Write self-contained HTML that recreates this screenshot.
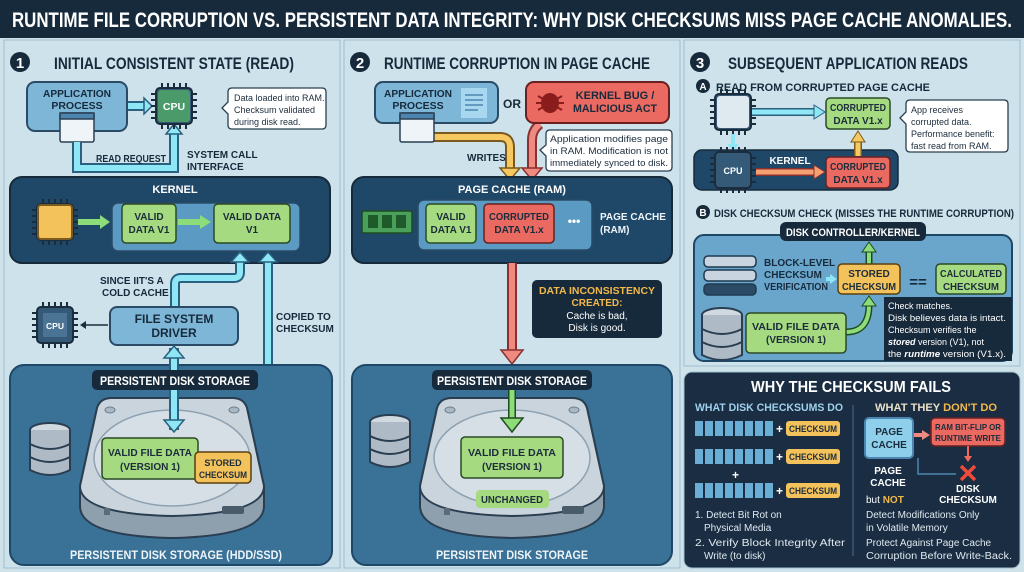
<!DOCTYPE html>
<html><head><meta charset="utf-8"><style>
html,body{margin:0;padding:0;background:#cfe2ea;}
svg{display:block}
text{font-family:"Liberation Sans",sans-serif;font-weight:bold}
.n{font-weight:normal;font-family:"Liberation Sans",sans-serif}
</style></head><body>
<svg width="1024" height="572" viewBox="0 0 1024 572" xmlns="http://www.w3.org/2000/svg">
<defs>
<g id="disk">
<path d="M-75,-58 Q-72,-68 -60,-68 L60,-68 Q72,-68 75,-58 L92,20 L92,40 Q92,70 0,72 Q-92,70 -92,40 L-92,20 Z" fill="#8e9fae" stroke="#2a3e52" stroke-width="2"/>
<path d="M-75,-58 Q-72,-68 -60,-68 L60,-68 Q72,-68 75,-58 L92,20 Q92,48 0,50 Q-92,48 -92,20 Z" fill="#c9d4dc" stroke="#2a3e52" stroke-width="2"/>
<ellipse cx="0" cy="-8" rx="78" ry="48" fill="#d6dfe6" stroke="#8fa2b2" stroke-width="1.5"/>
<ellipse cx="-62" cy="-56" rx="5" ry="3" fill="#a9b7c3" stroke="#6b7f90"/>
<ellipse cx="62" cy="-56" rx="5" ry="3" fill="#a9b7c3" stroke="#6b7f90"/>
<rect x="-68" y="42" width="6" height="7" fill="#5b6b78"/>
<rect x="50" y="40" width="22" height="8" rx="2" fill="#4a5b69"/>
</g>
<g id="db">
<ellipse cx="0" cy="-18" rx="20" ry="7" fill="#d0d9e0" stroke="#2a3e52" stroke-width="2"/>
<path d="M-20,-18 V22 Q0,32 20,22 V-18" fill="#aebbc6" stroke="#2a3e52" stroke-width="2"/>
<path d="M-20,-4 Q0,6 20,-4 M-20,9 Q0,19 20,9" fill="none" stroke="#2a3e52" stroke-width="2"/>
</g>
<g id="chip">
<rect x="-18" y="-18" width="36" height="36" rx="4" fill="#345a78" stroke="#1b2c3c" stroke-width="2"/>
<path d="M-12,-23V-18M-6,-23V-18M0,-23V-18M6,-23V-18M12,-23V-18M-12,18V23M-6,18V23M0,18V23M6,18V23M12,18V23M-23,-12H-18M-23,-6H-18M-23,0H-18M-23,6H-18M-23,12H-18M18,-12H23M18,-6H23M18,0H23M18,6H23M18,12H23" stroke="#1b2c3c" stroke-width="2"/>
</g>
<g id="win">
<rect x="0" y="0" width="34" height="29" rx="2" fill="#eef4f8" stroke="#2a3e52" stroke-width="1.5"/>
<rect x="0" y="0" width="34" height="6" fill="#4c86b0" stroke="#2a3e52" stroke-width="1.5"/>
</g>
</defs>

<rect width="1024" height="38" fill="#172a3c"/>
<text x="512" y="27" font-size="21" fill="#fff" text-anchor="middle" textLength="1000" lengthAdjust="spacingAndGlyphs">RUNTIME FILE CORRUPTION VS. PERSISTENT DATA INTEGRITY: WHY DISK CHECKSUMS MISS PAGE CACHE ANOMALIES.</text>

<rect x="4" y="40" width="336" height="528" fill="#cde2ea" stroke="#9ebfd0"/>
<rect x="344" y="40" width="336" height="528" fill="#cde2ea" stroke="#9ebfd0"/>
<rect x="684" y="40" width="336" height="326" fill="#cde2ea" stroke="#9ebfd0"/>

<!-- PANEL 1 -->
<circle cx="20" cy="62" r="10" fill="#172a3c"/><text x="20" y="68" font-size="15" fill="#fff" text-anchor="middle">1</text>
<text x="54" y="69" font-size="17" fill="#172a3c" textLength="240" lengthAdjust="spacingAndGlyphs">INITIAL CONSISTENT STATE (READ)</text>
<rect x="27" y="82" width="100" height="49" rx="8" fill="#7db6d6" stroke="#2a4a66" stroke-width="2"/>
<text x="77" y="97" font-size="10.5" fill="#172a3c" text-anchor="middle" textLength="68" lengthAdjust="spacingAndGlyphs">APPLICATION</text>
<text x="77" y="109" font-size="10.5" fill="#172a3c" text-anchor="middle">PROCESS</text>
<use href="#win" x="60" y="113"/>
<path d="M77,142 V168 H174 V130" fill="none" stroke="#2a6080" stroke-width="10"/>
<path d="M77,142 V168 H174 V132" fill="none" stroke="#8fe6f5" stroke-width="6"/>
<path d="M166,134 L174,124 L182,134 Z" fill="#8fe6f5" stroke="#2a6080" stroke-width="1.5"/>
<path d="M128,106 H146" stroke="#2a6080" stroke-width="10"/><path d="M128,106 H146" stroke="#8fe6f5" stroke-width="6"/>
<path d="M144,98 L152,106 L144,114 Z" fill="#8fe6f5" stroke="#2a6080" stroke-width="1.5"/>
<use href="#chip" x="174" y="106"/>
<rect x="158" y="90" width="32" height="32" rx="3" fill="#4a9a6a"/><text x="174" y="110" font-size="10.5" fill="#fff" text-anchor="middle">CPU</text>
<path d="M222,108 L228,102 V92 Q228,88 232,88 H322 Q326,88 326,92 V125 Q326,129 322,129 H232 Q228,129 228,125 V114 Z" fill="#fff" stroke="#2a3e52" stroke-width="1.3"/>
<text class="n" x="234" y="101" font-size="9" fill="#1b2c3c">Data loaded into RAM.</text>
<text class="n" x="234" y="113" font-size="9" fill="#1b2c3c">Checksum validated</text>
<text class="n" x="234" y="125" font-size="9" fill="#1b2c3c">during disk read.</text>
<text x="96" y="162" font-size="10" fill="#172a3c" textLength="70" lengthAdjust="spacingAndGlyphs">READ REQUEST</text>
<text x="187" y="158" font-size="10" fill="#172a3c">SYSTEM CALL</text>
<text x="187" y="170" font-size="10" fill="#172a3c">INTERFACE</text>
<rect x="10" y="177" width="320" height="86" rx="12" fill="#1f4767" stroke="#172a3c" stroke-width="2"/>
<text x="175" y="193" font-size="11" fill="#fff" text-anchor="middle">KERNEL</text>
<rect x="112" y="203" width="188" height="48" rx="6" fill="#5b9bc3" stroke="#2a4a66" stroke-width="1.5"/>
<use href="#chip" x="55" y="222"/>
<rect x="38" y="205" width="34" height="34" rx="3" fill="#f3c25b" stroke="#7a5a20" stroke-width="2"/>
<path d="M78,222 H102" stroke="#8ddc7a" stroke-width="6"/><path d="M100,215 L110,222 L100,229Z" fill="#8ddc7a"/>
<rect x="122" y="204" width="54" height="39" rx="4" fill="#a6da80" stroke="#2a4a26" stroke-width="1.5"/>
<text x="149" y="220" font-size="10" fill="#1b2c3c" text-anchor="middle">VALID</text><text x="149" y="233" font-size="10" fill="#1b2c3c" text-anchor="middle">DATA V1</text>
<path d="M178,222 H202" stroke="#8ddc7a" stroke-width="6"/><path d="M200,215 L211,222 L200,229Z" fill="#8ddc7a"/>
<rect x="214" y="204" width="76" height="39" rx="4" fill="#a6da80" stroke="#2a4a26" stroke-width="1.5"/>
<text x="252" y="220" font-size="10" fill="#1b2c3c" text-anchor="middle">VALID DATA</text><text x="252" y="233" font-size="10" fill="#1b2c3c" text-anchor="middle">V1</text>
<path d="M175,306 V284 Q175,278 181,278 H234 Q240,278 240,272 V258 M268,258 V395 Q268,400 262,400 H225 Q220,400 220,406 V452" fill="none" stroke="#2a6080" stroke-width="10"/>
<path d="M175,306 V284 Q175,278 181,278 H234 Q240,278 240,272 V258 M268,258 V395 Q268,400 262,400 H225 Q220,400 220,406 V452" fill="none" stroke="#8fe6f5" stroke-width="6"/>
<path d="M231,262 L240,252 L249,262Z M259,262 L268,252 L277,262Z" fill="#8fe6f5" stroke="#2a6080" stroke-width="1.5"/>
<text x="100" y="284" font-size="10" fill="#172a3c">SINCE IIT'S A</text><text x="102" y="296" font-size="10" fill="#172a3c">COLD CACHE</text>
<text x="276" y="320" font-size="10" fill="#172a3c">COPIED TO</text><text x="276" y="332" font-size="10" fill="#172a3c">CHECKSUM</text>
<use href="#chip" x="55" y="325"/><rect x="43" y="313" width="24" height="24" fill="#4a7394"/><text x="55" y="329" font-size="8.5" fill="#fff" text-anchor="middle">CPU</text>
<path d="M108,325 H86" stroke="#1b2c3c" stroke-width="1.5"/><path d="M86,321 L80,325 L86,329Z" fill="#1b2c3c"/>
<rect x="110" y="307" width="128" height="38" rx="7" fill="#7db6d6" stroke="#2a4a66" stroke-width="2"/>
<text x="174" y="323" font-size="12" fill="#172a3c" text-anchor="middle">FILE SYSTEM</text><text x="174" y="337" font-size="12" fill="#172a3c" text-anchor="middle">DRIVER</text>
<rect x="10" y="365" width="322" height="200" rx="14" fill="#3a7196" stroke="#1f4767" stroke-width="2"/>
<use href="#disk" x="172" y="466"/>
<path d="M174,348 V430" stroke="#2a6080" stroke-width="10"/><path d="M174,350 V428" stroke="#8fe6f5" stroke-width="6"/>
<path d="M164,358 L174,346 L184,358Z M164,420 L174,432 L184,420Z" fill="#8fe6f5" stroke="#2a6080" stroke-width="1.5"/>
<rect x="92" y="370" width="166" height="20" rx="5" fill="#172a3c"/>
<text x="175" y="385" font-size="12" fill="#fff" text-anchor="middle" textLength="150" lengthAdjust="spacingAndGlyphs">PERSISTENT DISK STORAGE</text>
<use href="#db" x="50" y="448"/>
<rect x="102" y="438" width="96" height="41" rx="4" fill="#a6da80" stroke="#2a4a26" stroke-width="1.5"/>
<text x="150" y="456" font-size="10" fill="#1b2c3c" text-anchor="middle" textLength="84" lengthAdjust="spacingAndGlyphs">VALID FILE DATA</text><text x="150" y="470" font-size="10" fill="#1b2c3c" text-anchor="middle">(VERSION 1)</text>
<rect x="195" y="452" width="56" height="31" rx="4" fill="#f3c25b" stroke="#5a4010" stroke-width="1.5"/>
<text x="223" y="466" font-size="9" fill="#1b2c3c" text-anchor="middle">STORED</text><text x="223" y="478" font-size="9" fill="#1b2c3c" text-anchor="middle" textLength="48" lengthAdjust="spacingAndGlyphs">CHECKSUM</text>
<text x="176" y="559" font-size="12" fill="#eef4f8" text-anchor="middle" textLength="212" lengthAdjust="spacingAndGlyphs">PERSISTENT DISK STORAGE (HDD/SSD)</text>

<!-- PANEL 2 -->
<circle cx="360" cy="62" r="10" fill="#172a3c"/><text x="360" y="68" font-size="15" fill="#fff" text-anchor="middle">2</text>
<text x="384" y="69" font-size="17" fill="#172a3c" textLength="266" lengthAdjust="spacingAndGlyphs">RUNTIME CORRUPTION IN PAGE CACHE</text>
<path d="M430,137 H500 Q510,137 510,147 V170" fill="none" stroke="#7a5a20" stroke-width="10"/>
<path d="M430,137 H500 Q510,137 510,147 V170" fill="none" stroke="#f5c860" stroke-width="6"/>
<path d="M500,168 L510,180 L520,168Z" fill="#f5c860" stroke="#7a5a20" stroke-width="1.5"/>
<path d="M540,124 Q532,130 532,140 V170" fill="none" stroke="#8a3030" stroke-width="10"/>
<path d="M540,124 Q532,130 532,140 V170" fill="none" stroke="#ef8a80" stroke-width="6"/>
<path d="M522,168 L532,180 L542,168Z" fill="#ef8a80" stroke="#8a3030" stroke-width="1.5"/>
<rect x="375" y="82" width="123" height="41" rx="8" fill="#7db6d6" stroke="#2a4a66" stroke-width="2"/>
<text x="418" y="97" font-size="10.5" fill="#172a3c" text-anchor="middle" textLength="68" lengthAdjust="spacingAndGlyphs">APPLICATION</text><text x="418" y="109" font-size="10.5" fill="#172a3c" text-anchor="middle">PROCESS</text>
<rect x="461" y="88" width="26" height="30" fill="#a8d8f0"/><path d="M465,95H483M465,100H483M465,105H483M465,110H478" stroke="#4c86b0" stroke-width="1.5"/>
<use href="#win" x="400" y="113"/>
<text x="512" y="108" font-size="12" fill="#172a3c" text-anchor="middle">OR</text>
<rect x="526" y="82" width="143" height="41" rx="8" fill="#ea6a62" stroke="#6a2020" stroke-width="2"/>
<ellipse cx="550" cy="103" rx="9" ry="10" fill="#8a1c1c"/><path d="M538,96L562,110M538,110L562,96M536,103H564" stroke="#8a1c1c" stroke-width="2"/>
<text x="615" y="99" font-size="11" fill="#172a3c" text-anchor="middle">KERNEL BUG /</text><text x="615" y="112" font-size="11" fill="#172a3c" text-anchor="middle" textLength="84" lengthAdjust="spacingAndGlyphs">MALICIOUS ACT</text>
<path d="M540,150 L546,145 V134 Q546,130 550,130 H668 Q672,130 672,134 V167 Q672,171 668,171 H550 Q546,171 546,167 V156 Z" fill="#fff" stroke="#2a3e52" stroke-width="1.3"/>
<text class="n" x="550" y="142" font-size="9" fill="#1b2c3c" textLength="118" lengthAdjust="spacingAndGlyphs">Application modifies page</text>
<text class="n" x="550" y="154" font-size="9" fill="#1b2c3c" textLength="118" lengthAdjust="spacingAndGlyphs">in RAM. Modification is not</text>
<text class="n" x="550" y="166" font-size="9" fill="#1b2c3c" textLength="118" lengthAdjust="spacingAndGlyphs">immediately synced to disk.</text>
<text x="467" y="161" font-size="10" fill="#172a3c">WRITES</text>
<rect x="352" y="177" width="320" height="86" rx="12" fill="#1f4767" stroke="#172a3c" stroke-width="2"/>
<text x="512" y="193" font-size="11" fill="#fff" text-anchor="middle">PAGE CACHE (RAM)</text>
<rect x="418" y="200" width="174" height="50" rx="6" fill="#5b9bc3" stroke="#2a4a66" stroke-width="1.5"/>
<rect x="362" y="211" width="50" height="22" rx="2" fill="#4aa05a" stroke="#1f4a20" stroke-width="1.5"/>
<rect x="368" y="215" width="10" height="13" fill="#1f5a2a"/><rect x="382" y="215" width="10" height="13" fill="#1f5a2a"/><rect x="396" y="215" width="10" height="13" fill="#1f5a2a"/>
<rect x="426" y="204" width="50" height="39" rx="4" fill="#a6da80" stroke="#2a4a26" stroke-width="1.5"/>
<text x="451" y="220" font-size="10" fill="#1b2c3c" text-anchor="middle">VALID</text><text x="451" y="233" font-size="10" fill="#1b2c3c" text-anchor="middle">DATA V1</text>
<rect x="484" y="204" width="70" height="39" rx="4" fill="#ea6a62" stroke="#6a2020" stroke-width="1.5"/>
<text x="519" y="220" font-size="10" fill="#1b2c3c" text-anchor="middle" textLength="60" lengthAdjust="spacingAndGlyphs">CORRUPTED</text><text x="519" y="233" font-size="10" fill="#1b2c3c" text-anchor="middle">DATA V1.x</text>
<text x="574" y="225" font-size="12" fill="#fff" text-anchor="middle">•••</text>
<text x="600" y="220" font-size="10" fill="#eef4f8">PAGE CACHE</text><text x="600" y="233" font-size="10" fill="#eef4f8">(RAM)</text>
<path d="M512,263 V352" stroke="#8a3030" stroke-width="10"/><path d="M512,263 V352" stroke="#ef8a80" stroke-width="6"/>
<path d="M501,350 L512,364 L523,350Z" fill="#ef8a80" stroke="#8a3030" stroke-width="1.5"/>
<rect x="532" y="280" width="130" height="58" rx="5" fill="#172a3c"/>
<text x="597" y="294" font-size="10" fill="#f3b84a" text-anchor="middle" textLength="116" lengthAdjust="spacingAndGlyphs">DATA INCONSISTENCY</text>
<text x="597" y="306" font-size="10" fill="#f3b84a" text-anchor="middle">CREATED:</text>
<text class="n" x="597" y="319" font-size="10" fill="#fff" text-anchor="middle">Cache is bad,</text>
<text class="n" x="597" y="331" font-size="10" fill="#fff" text-anchor="middle">Disk is good.</text>
<rect x="352" y="365" width="320" height="200" rx="14" fill="#3a7196" stroke="#1f4767" stroke-width="2"/>
<use href="#disk" x="512" y="466"/>
<rect x="432" y="370" width="160" height="20" rx="5" fill="#172a3c"/>
<text x="512" y="385" font-size="12" fill="#fff" text-anchor="middle" textLength="150" lengthAdjust="spacingAndGlyphs">PERSISTENT DISK STORAGE</text>
<path d="M512,390 V420" stroke="#1f4a20" stroke-width="8"/><path d="M512,390 V420" stroke="#8ddc7a" stroke-width="5"/>
<path d="M501,418 L512,432 L523,418Z" fill="#8ddc7a" stroke="#1f4a20" stroke-width="1.5"/>
<use href="#db" x="390" y="440"/>
<rect x="461" y="437" width="102" height="41" rx="4" fill="#a6da80" stroke="#2a4a26" stroke-width="1.5"/>
<text x="512" y="456" font-size="10" fill="#1b2c3c" text-anchor="middle" textLength="88" lengthAdjust="spacingAndGlyphs">VALID FILE DATA</text><text x="512" y="470" font-size="10" fill="#1b2c3c" text-anchor="middle">(VERSION 1)</text>
<rect x="476" y="490" width="73" height="18" rx="4" fill="#a6da80"/>
<text x="512" y="503" font-size="10" fill="#1b2c3c" text-anchor="middle" textLength="62" lengthAdjust="spacingAndGlyphs">UNCHANGED</text>
<text x="512" y="559" font-size="12" fill="#eef4f8" text-anchor="middle" textLength="152" lengthAdjust="spacingAndGlyphs">PERSISTENT DISK STORAGE</text>

<!-- PANEL 3 -->
<circle cx="700" cy="62" r="10" fill="#172a3c"/><text x="700" y="68" font-size="15" fill="#fff" text-anchor="middle">3</text>
<text x="728" y="69" font-size="17" fill="#172a3c" textLength="240" lengthAdjust="spacingAndGlyphs">SUBSEQUENT APPLICATION READS</text>
<circle cx="703" cy="86" r="7" fill="#172a3c"/><text x="703" y="90" font-size="10" fill="#fff" text-anchor="middle">A</text>
<text x="716" y="91" font-size="11" fill="#172a3c" textLength="214" lengthAdjust="spacingAndGlyphs">READ FROM CORRUPTED PAGE CACHE</text>
<rect x="694" y="150" width="204" height="40" rx="8" fill="#1f4767" stroke="#172a3c" stroke-width="1.5"/>
<use href="#chip" x="733" y="112"/><rect x="717" y="96" width="32" height="32" rx="3" fill="#dfe9f0"/>
<path d="M752,112 H816" stroke="#2a6080" stroke-width="8"/><path d="M752,112 H816" stroke="#8fe6f5" stroke-width="5"/>
<path d="M814,105 L825,112 L814,119Z" fill="#8fe6f5" stroke="#2a6080"/>
<path d="M733,134 V146" stroke="#8fe6f5" stroke-width="4"/><path d="M727,144 L733,151 L739,144Z" fill="#8fe6f5"/>
<use href="#chip" x="733" y="170"/><text x="733" y="174" font-size="9" fill="#fff" text-anchor="middle">CPU</text>
<text x="790" y="164" font-size="10" fill="#fff" text-anchor="middle">KERNEL</text>
<path d="M756,172 H816" stroke="#8a3030" stroke-width="8"/><path d="M756,172 H816" stroke="#f5a070" stroke-width="5"/>
<path d="M814,165 L825,172 L814,179Z" fill="#f5a070" stroke="#8a3030"/>
<rect x="826" y="98" width="64" height="31" rx="4" fill="#a6da80" stroke="#2a4a26" stroke-width="1.5"/>
<text x="858" y="111" font-size="10" fill="#1b2c3c" text-anchor="middle" textLength="56" lengthAdjust="spacingAndGlyphs">CORRUPTED</text><text x="858" y="124" font-size="10" fill="#1b2c3c" text-anchor="middle">DATA V1.x</text>
<path d="M858,156 V140" stroke="#7a5a20" stroke-width="8"/><path d="M858,156 V140" stroke="#f5c860" stroke-width="5"/>
<path d="M851,142 L858,131 L865,142Z" fill="#f5c860" stroke="#7a5a20"/>
<rect x="826" y="157" width="64" height="31" rx="4" fill="#ea6a62" stroke="#6a2020" stroke-width="1.5"/>
<text x="858" y="170" font-size="10" fill="#1b2c3c" text-anchor="middle" textLength="56" lengthAdjust="spacingAndGlyphs">CORRUPTED</text><text x="858" y="183" font-size="10" fill="#1b2c3c" text-anchor="middle">DATA V1.x</text>
<path d="M900,118 L906,112 V104 Q906,100 910,100 H1004 Q1008,100 1008,104 V148 Q1008,152 1004,152 H910 Q906,152 906,148 V124 Z" fill="#fff" stroke="#2a3e52" stroke-width="1.3"/>
<text class="n" x="911" y="113" font-size="9" fill="#1b2c3c">App receives</text>
<text class="n" x="911" y="125" font-size="9" fill="#1b2c3c">corrupted data.</text>
<text class="n" x="911" y="137" font-size="9" fill="#1b2c3c">Performance benefit:</text>
<text class="n" x="911" y="149" font-size="9" fill="#1b2c3c">fast read from RAM.</text>
<circle cx="703" cy="212" r="7" fill="#172a3c"/><text x="703" y="216" font-size="10" fill="#fff" text-anchor="middle">B</text>
<text x="714" y="217" font-size="11" fill="#172a3c" textLength="300" lengthAdjust="spacingAndGlyphs">DISK CHECKSUM CHECK (MISSES THE RUNTIME CORRUPTION)</text>
<rect x="694" y="235" width="318" height="126" rx="10" fill="#6aa6cc" stroke="#1f4767" stroke-width="2"/>
<rect x="780" y="222" width="146" height="19" rx="6" fill="#172a3c"/>
<text x="853" y="236" font-size="11" fill="#fff" text-anchor="middle" textLength="134" lengthAdjust="spacingAndGlyphs">DISK CONTROLLER/KERNEL</text>
<path d="M869,264 V250" stroke="#1f4a20" stroke-width="7"/><path d="M869,264 V250" stroke="#8ddc7a" stroke-width="4"/>
<path d="M862,252 L869,242 L876,252Z" fill="#8ddc7a" stroke="#1f4a20"/>
<rect x="704" y="256" width="52" height="11" rx="4" fill="#c8d5e0" stroke="#1f3a50" stroke-width="1.5"/>
<rect x="704" y="270" width="52" height="11" rx="4" fill="#c8d5e0" stroke="#1f3a50" stroke-width="1.5"/>
<rect x="704" y="284" width="52" height="11" rx="4" fill="#2a4a66" stroke="#1f3a50" stroke-width="1.5"/>
<text x="764" y="266" font-size="10" fill="#172a3c">BLOCK-LEVEL</text><text x="764" y="278" font-size="10" fill="#172a3c">CHECKSUM</text><text x="764" y="290" font-size="10" fill="#172a3c" textLength="64" lengthAdjust="spacingAndGlyphs">VERIFICATION</text>
<path d="M826,279 H832" stroke="#8fe6f5" stroke-width="4"/><path d="M830,274 L837,279 L830,284Z" fill="#8fe6f5"/>
<rect x="838" y="264" width="62" height="30" rx="4" fill="#f3c25b" stroke="#5a4010" stroke-width="1.5"/>
<text x="869" y="277" font-size="10" fill="#1b2c3c" text-anchor="middle">STORED</text><text x="869" y="290" font-size="10" fill="#1b2c3c" text-anchor="middle" textLength="54" lengthAdjust="spacingAndGlyphs">CHECKSUM</text>
<text x="918" y="287" font-size="15" fill="#172a3c" text-anchor="middle">==</text>
<rect x="936" y="264" width="70" height="30" rx="4" fill="#a6da80" stroke="#2a4a26" stroke-width="1.5"/>
<text x="971" y="277" font-size="10" fill="#1b2c3c" text-anchor="middle" textLength="62" lengthAdjust="spacingAndGlyphs">CALCULATED</text><text x="971" y="290" font-size="10" fill="#1b2c3c" text-anchor="middle" textLength="56" lengthAdjust="spacingAndGlyphs">CHECKSUM</text>
<rect x="884" y="297" width="128" height="64" fill="#172a3c"/>
<text class="n" x="888" y="309" font-size="9" fill="#fff">Check matches.</text>
<text class="n" x="888" y="321" font-size="9" fill="#fff" textLength="118" lengthAdjust="spacingAndGlyphs">Disk believes data is intact.</text>
<text class="n" x="888" y="333" font-size="9" fill="#fff">Checksum verifies the</text>
<text class="n" x="888" y="345" font-size="9" fill="#fff"><tspan font-weight="bold" font-style="italic">stored</tspan> version (V1), not</text>
<text class="n" x="888" y="357" font-size="9" fill="#fff" textLength="118" lengthAdjust="spacingAndGlyphs">the <tspan font-weight="bold" font-style="italic">runtime</tspan> version (V1.x).</text>
<path d="M846,332 Q869,332 869,305" fill="none" stroke="#1f4a20" stroke-width="7"/><path d="M846,332 Q869,332 869,305" fill="none" stroke="#8ddc7a" stroke-width="4"/>
<path d="M862,306 L869,296 L876,306Z" fill="#8ddc7a" stroke="#1f4a20"/>
<use href="#db" x="722" y="333"/>
<rect x="746" y="313" width="100" height="40" rx="4" fill="#a6da80" stroke="#2a4a26" stroke-width="1.5"/>
<text x="796" y="330" font-size="10" fill="#1b2c3c" text-anchor="middle" textLength="88" lengthAdjust="spacingAndGlyphs">VALID FILE DATA</text><text x="796" y="343" font-size="10" fill="#1b2c3c" text-anchor="middle">(VERSION 1)</text>

<!-- bottom right -->
<rect x="684" y="372" width="336" height="196" rx="8" fill="#1a2d42" stroke="#9ebfd0"/>
<text x="851" y="392" font-size="16" fill="#fff" text-anchor="middle" textLength="200" lengthAdjust="spacingAndGlyphs">WHY THE CHECKSUM FAILS</text>
<text x="695" y="411" font-size="11" fill="#9fd0ec" textLength="148" lengthAdjust="spacingAndGlyphs">WHAT DISK CHECKSUMS DO</text>
<text x="875" y="411" font-size="11" fill="#e8e0c8" textLength="122" lengthAdjust="spacingAndGlyphs">WHAT THEY <tspan fill="#f3b84a">DON'T DO</tspan></text>
<path d="M853,405 V556" stroke="#3a5a78" stroke-width="1.5"/>
<g fill="#6aaed6">
<g id="bars"><rect x="695" y="421" width="8" height="15"/><rect x="705" y="421" width="8" height="15"/><rect x="715" y="421" width="8" height="15"/><rect x="725" y="421" width="8" height="15"/><rect x="735" y="421" width="8" height="15"/><rect x="745" y="421" width="8" height="15"/><rect x="755" y="421" width="8" height="15"/><rect x="765" y="421" width="8" height="15"/></g>
<use href="#bars" y="28"/><use href="#bars" y="62"/>
</g>
<g font-size="12" fill="#fff"><text x="776" y="433">+</text><text x="776" y="461">+</text><text x="776" y="495">+</text><text x="732" y="479">+</text></g>
<g><rect x="786" y="421" width="54" height="15" rx="3" fill="#f3c25b"/><rect x="786" y="449" width="54" height="15" rx="3" fill="#f3c25b"/><rect x="786" y="483" width="54" height="15" rx="3" fill="#f3c25b"/></g>
<g font-size="9" fill="#1b2c3c" text-anchor="middle"><text x="813" y="432" textLength="48" lengthAdjust="spacingAndGlyphs">CHECKSUM</text><text x="813" y="460" textLength="48" lengthAdjust="spacingAndGlyphs">CHECKSUM</text><text x="813" y="494" textLength="48" lengthAdjust="spacingAndGlyphs">CHECKSUM</text></g>
<g font-size="10" fill="#dfe9f0">
<text class="n" x="695" y="518">1. Detect Bit Rot on</text><text class="n" x="704" y="531">Physical Media</text>
<text class="n" x="695" y="546" textLength="150" lengthAdjust="spacingAndGlyphs">2. Verify Block Integrity After</text><text class="n" x="704" y="559">Write (to disk)</text>
<text class="n" x="866" y="518">Detect Modifications Only</text><text class="n" x="866" y="531">in Volatile Memory</text>
<text class="n" x="866" y="546">Protect Against Page Cache</text><text class="n" x="866" y="559" textLength="146" lengthAdjust="spacingAndGlyphs">Corruption Before Write-Back.</text>
</g>
<rect x="865" y="418" width="48" height="40" rx="4" fill="#8ed0ec" stroke="#4c86b0" stroke-width="2"/>
<text x="889" y="435" font-size="10" fill="#1b2c3c" text-anchor="middle">PAGE</text><text x="889" y="448" font-size="10" fill="#1b2c3c" text-anchor="middle">CACHE</text>
<path d="M914,435 H924" stroke="#ef8a80" stroke-width="4"/><path d="M922,430 L930,435 L922,440Z" fill="#ef8a80"/>
<rect x="931" y="418" width="74" height="28" rx="4" fill="#ea6a62" stroke="#6a2020" stroke-width="1.5"/>
<text x="968" y="430" font-size="8.5" fill="#1b2c3c" text-anchor="middle" textLength="66" lengthAdjust="spacingAndGlyphs">RAM BIT-FLIP OR</text><text x="968" y="441" font-size="8.5" fill="#1b2c3c" text-anchor="middle" textLength="66" lengthAdjust="spacingAndGlyphs">RUNTIME WRITE</text>
<path d="M968,446 V458" stroke="#ef6a5a" stroke-width="2"/><path d="M964,456 L968,462 L972,456Z" fill="#ef6a5a"/>
<path d="M918,458 V474 H956" fill="none" stroke="#4c86b0" stroke-width="1.5"/>
<path d="M961,466 L975,480 M975,466 L961,480" stroke="#ef4a3a" stroke-width="3.5"/>
<text x="888" y="474" font-size="10" fill="#fff" text-anchor="middle">PAGE</text><text x="888" y="486" font-size="10" fill="#fff" text-anchor="middle">CACHE</text>
<text x="968" y="492" font-size="10" fill="#fff" text-anchor="middle">DISK</text><text x="968" y="503" font-size="10" fill="#fff" text-anchor="middle">CHECKSUM</text>
<text class="n" x="866" y="503" font-size="10" fill="#fff">but <tspan font-weight="bold" fill="#f3b84a">NOT</tspan></text>
</svg>
</body></html>
